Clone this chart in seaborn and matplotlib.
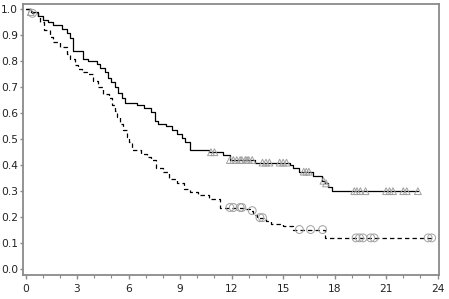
import numpy as np
import pandas as pd
import matplotlib
matplotlib.use("Agg")
import matplotlib.pyplot as plt
import seaborn as sns
from matplotlib.ticker import MultipleLocator

# ---- data ----
times_a = [0, 0.3, 0.7, 1.0, 1.3, 1.6, 2.1, 2.4, 2.6, 2.75, 3.35, 3.65, 4.15, 4.35, 4.6,
           4.8, 5.0, 5.2, 5.4, 5.6, 5.8, 6.5, 6.9, 7.3, 7.55, 7.7, 8.2, 8.5, 8.8, 9.1,
           9.3, 9.6, 10.7, 11.5, 11.9, 13.35, 15.4, 15.6, 15.9, 16.75, 17.25, 17.45,
           17.6, 17.85, 22.85]
surv_a = [1.0, 0.99, 0.975, 0.96, 0.95, 0.94, 0.925, 0.91, 0.89, 0.84, 0.81, 0.80, 0.79,
          0.775, 0.76, 0.735, 0.72, 0.70, 0.68, 0.66, 0.64, 0.63, 0.62, 0.605, 0.57, 0.56,
          0.55, 0.535, 0.52, 0.505, 0.49, 0.46, 0.45, 0.44, 0.42, 0.41, 0.40, 0.39, 0.375,
          0.36, 0.34, 0.33, 0.315, 0.30, 0.30]
cens_a = [0.3, 10.8, 11.0, 11.9, 12.1, 12.3, 12.5, 12.6, 12.8, 12.9, 13.0, 13.2, 13.8,
          14.0, 14.2, 14.8, 15.0, 15.2, 16.2, 16.35, 16.5, 17.35, 17.5, 19.15, 19.3, 19.5,
          19.8, 21.0, 21.2, 21.4, 22.0, 22.2, 22.85]

times_b = [0, 0.4, 0.7, 0.85, 1.1, 1.4, 1.6, 2.0, 2.4, 2.6, 2.85, 3.05, 3.3, 3.6, 3.9,
           4.2, 4.5, 4.85, 5.05, 5.2, 5.35, 5.5, 5.7, 5.9, 6.05, 6.2, 6.7, 7.1, 7.3, 7.6,
           8.0, 8.35, 8.8, 9.2, 9.6, 10.05, 10.7, 11.3, 12.8, 13.05, 13.25, 13.5, 14.0,
           14.3, 15.0, 15.6, 17.45, 23.65]
surv_b = [1.0, 0.985, 0.97, 0.95, 0.92, 0.895, 0.875, 0.855, 0.83, 0.81, 0.785, 0.77,
          0.76, 0.75, 0.725, 0.70, 0.675, 0.66, 0.63, 0.61, 0.585, 0.56, 0.535, 0.51,
          0.49, 0.46, 0.445, 0.43, 0.42, 0.39, 0.375, 0.345, 0.33, 0.31, 0.295, 0.285,
          0.27, 0.237, 0.232, 0.225, 0.21, 0.198, 0.185, 0.175, 0.165, 0.152, 0.12, 0.12]
cens_b = [0.4, 11.9, 12.1, 12.5, 12.6, 13.2, 13.65, 13.8, 15.95, 16.6, 17.3, 19.25,
          19.45, 19.65, 20.1, 20.3, 23.45, 23.65]

x_ticks = [0, 3, 6, 9, 12, 15, 18, 21, 24]
y_ticks = [0.0, 0.1, 0.2, 0.3, 0.4, 0.5, 0.6, 0.7, 0.8, 0.9, 1.0]


def surv_at(times, surv, t):
    idx = np.searchsorted(times, t, side="right") - 1
    return surv[max(idx, 0)]


sns.set_style("white")
plt.rcParams["font.family"] = ["DejaVu Sans"]

fig = plt.figure(figsize=(4.49, 2.99), dpi=100)
ax = fig.add_axes([23 / 449, 1 - 275 / 299, (439 - 23) / 449, (275 - 4) / 299])

df_a = pd.DataFrame({"t": times_a, "s": surv_a})
df_b = pd.DataFrame({"t": times_b, "s": surv_b})
sns.lineplot(data=df_a, x="t", y="s", ax=ax, drawstyle="steps-post", color="black",
             linewidth=0.9, estimator=None, sort=False)
sns.lineplot(data=df_b, x="t", y="s", ax=ax, drawstyle="steps-post", color="black",
             linewidth=0.9, estimator=None, sort=False, linestyle=(0, (3.5, 2.5)))

ca = pd.DataFrame({"t": cens_a, "s": [surv_at(times_a, surv_a, t) for t in cens_a]})
cb = pd.DataFrame({"t": cens_b, "s": [surv_at(times_b, surv_b, t) for t in cens_b]})
sns.scatterplot(data=ca, x="t", y="s", ax=ax, marker="^", s=24, facecolor="none",
                edgecolor="#a0a0a0", linewidth=0.7, zorder=3)
sns.scatterplot(data=cb, x="t", y="s", ax=ax, marker="o", s=32, facecolor="none",
                edgecolor="#a0a0a0", linewidth=0.7, zorder=3)

ax.set_xlim(-0.15, 24.08)
ax.set_ylim(-0.023, 1.021)
ax.set_xticks(x_ticks)
ax.set_xticklabels([str(v) for v in x_ticks])
ax.xaxis.set_minor_locator(MultipleLocator(1))
ax.set_yticks(y_ticks)
ax.set_yticklabels([f"{v:.1f}" for v in y_ticks])
ax.set_xlabel("")
ax.set_ylabel("")
for sp in ax.spines.values():
    sp.set_color("#8a8a8a")
    sp.set_linewidth(1.3)
ax.tick_params(axis="y", which="major", direction="out", length=2.2, width=1.0,
               color="#8a8a8a", labelsize=7.7, labelcolor="#222222", pad=1.2, left=True)
ax.tick_params(axis="x", which="major", direction="out", length=3.2, width=1.0,
               color="#8a8a8a", labelsize=7.7, labelcolor="#222222", pad=3.5, bottom=True)
ax.tick_params(axis="x", which="minor", direction="out", length=2.0, width=0.8,
               color="#8a8a8a", bottom=True)

fig.savefig("out.png", dpi=100)
